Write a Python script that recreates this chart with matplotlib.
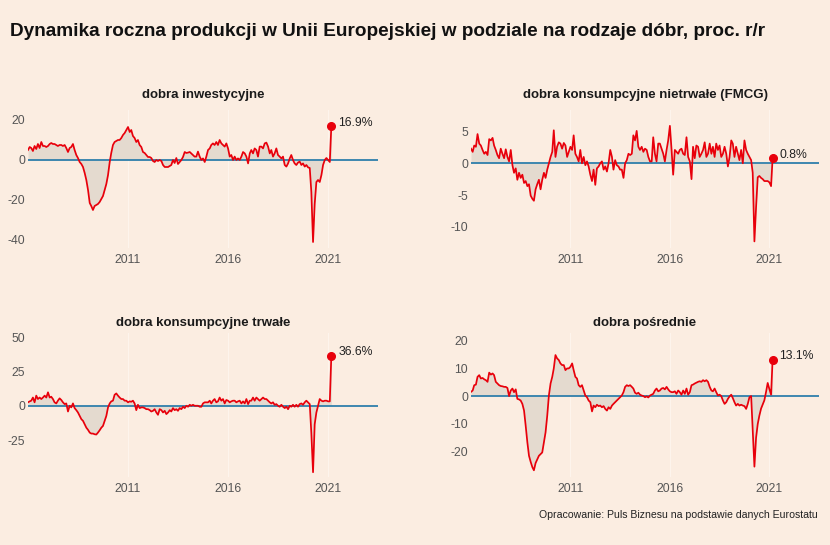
import matplotlib
matplotlib.use('Agg')
import matplotlib.pyplot as plt
import pandas as pd

# monthly data, Jan 2006 - Mar 2021 (% y/y)
DATES = pd.date_range('2006-01-01', periods=183, freq='MS')

INVESTMENT = [
    5, 6.5, 6, 4.5, 7, 5.5, 8, 6, 9, 7, 7, 6.5,
    7, 8, 8.5, 8, 8, 7.5, 7, 7.5, 7.5, 7, 7.5, 6,
    4, 6, 6.5, 8, 5, 2.5, 1, -1, -2, -3.5, -6.5, -10,
    -15, -21.5, -23, -25, -23, -22.5, -22, -21, -19.5, -18, -15, -12,
    -7.5, -1, 3.5, 7.5, 9, 9.5, 10, 10, 11, 12.5, 13.5, 15,
    16.5, 14, 15, 12, 11, 9, 10, 7.5, 6.5, 4, 3.5, 2.5,
    1.5, 1.5, 1, -0.5, -1, 0, -0.5, 0, -0.5, -2.5, -3.5, -3.5,
    -3.5, -3, -2.5, 0, -1.5, 1, -2, -1, 0, 1.5, 4, 3.5,
    3.7, 4, 3.3, 2.5, 1.7, 1.7, 4.2, 1.7, 0, 0.8, -1, 1.7,
    5, 5.8, 7.5, 8.3, 7.5, 9, 7.5, 10, 8.3, 7.5, 6.7, 8.3,
    5.8, 1.7, 2.5, 0, 1.7, 0, 0.8, 0, 1.7, 4, 3.3, 1.7,
    -1.7, 3.3, 5, 3.3, 5.8, 5, 1.7, 6.7, 6.7, 5.8, 8.3, 8.7,
    6.7, 3.3, 5, 1.7, 3.3, 5.8, 2.5, 1.7, 0.8, 1.7, -2.5, -3.3,
    -1.7, 0.8, 2.5, 0, -1.7, -2.5, -1.3, -0.8, -2.5, -1.7, -3.3, -2.5,
    -3.7, -4, -16, -41, -22, -11, -10, -11, -7.5, -2.5, 0, 1,
    0, -1, 16.9,
]

FMCG = [
    2.3, 1.8, 2.8, 2.6, 4.6, 3.1, 2.8, 2.1, 1.5, 1.8, 1.3, 3.8,
    3.6, 4.0, 2.8, 2.1, 1.3, 0.8, 2.3, 1.5, 0.8, 2.2, 1.0, 0.3,
    2.1, -0.3, -1.5, -0.8, -2.6, -1.5, -2.3, -1.8, -3.1, -2.8, -3.6, -3.3,
    -5.1, -5.6, -5.9, -4.1, -3.3, -2.6, -4.1, -2.6, -1.5, -2.3, -1.0, 0,
    1.0, 1.8, 5.2, 1.0, 2.6, 3.3, 3.1, 2.3, 3.2, 2.8, 1.0, 1.8,
    2.6, 2.1, 4.4, 1.5, 1.0, 0.3, 2.1, 0, 1.0, -0.3, 0.3, -0.5,
    -1.8, -2.8, -1.0, -3.4, -0.8, -0.5, 0, 0.3, -1.0, -0.5, -1.3, 0,
    2.1, 1.0, -1.0, 0.5, -0.3, -0.5, -1.0, -1.0, -2.3, 0, 0.5, 1.5,
    1.3, 1.5, 4.4, 3.6, 5.1, 2.6, 2.1, 2.6, 1.8, 2.3, 2.1, 1.0,
    0.3, 0.3, 4.1, 1.5, 0.3, 3.1, 3.1, 2.3, 1.5, 0.3, 2.1, 3.6,
    5.9, 2.1, -1.8, 2.1, 1.8, 1.5, 2.1, 2.3, 1.5, 1.3, 4.1, 1.0,
    0.3, -2.5, 2.6, 0.8, 2.8, 2.6, 1.0, 1.5, 2.1, 3.3, 1.0, 1.5,
    3.1, 1.5, 2.6, 1.0, 3.1, 2.1, 2.8, 1.0, 1.5, 2.6, 1.5, -0.5,
    1.0, 3.6, 3.1, 1.0, 2.6, 1.5, 0.5, 2.1, 0, 3.6, 2.1, 1.5,
    1.0, 0.5, -1.5, -12.3, -7, -2.2, -2, -2.3, -2.5, -2.8, -2.8, -2.8,
    -3, -3.6, 0.8,
]

DURABLE = [
    2.5, 3.2, 3.7, 6, 2.5, 7.4, 4.9, 6, 4.9, 6, 7.4, 6,
    9.8, 6, 6.6, 4.9, 2.5, 1.7, 3.7, 5.4, 4.2, 2.5, 1.2, 1.7,
    -4.2, 0, -1.2, 1.7, -1.7, -3.2, -4.9, -7.4, -9.8, -11, -13.5, -16,
    -17.6, -19.6, -20.3, -20.3, -20.8, -21, -19.6, -17.9, -16, -14.7, -11, -7.4,
    -1.2, 1.7, 3.2, 3.7, 8, 9, 7.4, 6, 4.9, 4.9, 3.7, 3.7,
    2.5, 3.2, 2.9, 3.7, 1.7, -3.2, 0.7, -1.7, -1.2, -1.2, -1.7, -2.5,
    -2.5, -3.2, -4.2, -3.7, -2.5, -4.9, -6.6, -2.5, -3.2, -4.9, -3.7, -6.1,
    -4.9, -3.2, -4.2, -1.7, -3.2, -2.5, -3.7, -1.7, -2.5, -0.7, -1.7, 0,
    -0.7, 0.7, 0, 0.7, 0, 0, 0, -0.7, -0.7, 1.7, 2.5, 2.5,
    2.5, 3.7, 1.7, 3.7, 4.9, 2.5, 3.2, 6, 3.7, 4.9, 1.7, 4.2,
    3.7, 2.5, 3.2, 3.7, 3.7, 2.5, 3.2, 3.7, 1.7, 3.2, 1.7, 4.9,
    1.2, 3.7, 3.7, 6, 3.7, 6, 4.9, 3.7, 4.9, 6, 4.9, 4.9,
    3.7, 2.5, 1.7, 2.5, 0.7, 1.2, 0, -0.7, 0.7, -0.7, -1.7, -0.7,
    -2.5, 0, -0.7, 0.7, -0.7, 0.7, -0.7, 1.2, 1.7, 0.7, 2.5, 3.7,
    2.5, 1.2, -20, -48.5, -13.5, -4.9, 0, 4.9, 3.7, 3.2, 3.7, 3.7,
    3.2, 3.2, 36.6,
]

INTERMEDIATE = [
    1.5, 2.0, 3.9, 4.1, 6.9, 7.5, 6.3, 6.5, 6.0, 5.7, 5.1, 8.4,
    7.7, 8.1, 7.5, 5.1, 4.5, 3.9, 3.6, 3.5, 3.3, 3.3, 2.9, 0,
    2.0, 2.7, 1.4, 2.4, -1.0, -1.2, -1.6, -2.8, -5.2, -10.6, -16.6, -21.4,
    -23.6, -25.5, -26.6, -24, -22.7, -21.4, -20.8, -20.2, -16.6, -13.0, -7.0, 0.2,
    4.5, 6.9, 9.9, 14.7, 13.5, 12.9, 11.7, 11.1, 11.1, 9.3, 9.9, 9.9,
    10.5, 11.7, 9.3, 6.9, 6.3, 3.9, 3.3, 3.9, 2.0, 0.2, -0.4, -1.6,
    -2.2, -5.5, -3.4, -4.0, -3.1, -3.6, -3.4, -4.0, -3.6, -4.6, -5.2, -4.0,
    -4.6, -3.4, -2.8, -2.2, -1.6, -1.0, -0.4, 0.2, 1.4, 3.3, 3.9, 3.6,
    3.9, 3.3, 2.7, 1.2, 0.8, 1.2, 0.5, 0.2, 0, -0.4, -0.1, -0.5,
    0.2, 0.5, 0.8, 2.0, 2.7, 1.7, 2.0, 2.7, 2.9, 2.4, 3.3, 2.4,
    1.7, 1.4, 1.4, 1.7, 0.8, 2.0, 1.4, 0.5, 2.0, 0.8, 2.7, 0.5,
    1.4, 3.9, 4.1, 4.5, 4.8, 5.1, 5.3, 5.1, 5.7, 5.3, 5.7, 5.1,
    3.3, 2.0, 1.7, 2.7, 1.4, 0.2, 0.5, 0, -1.6, -2.8, -2.2, -1.0,
    -0.1, 0.5, -0.7, -2.2, -3.4, -2.8, -3.4, -3.1, -3.4, -3.6, -4.6, -2.8,
    -0.4, 0, -12, -25.3, -15, -10, -7, -4.5, -3, -1.5, 1.5, 4.7,
    2.5, 0.5, 13.1,
]

TITLES = ['dobra inwestycyjne', 'dobra konsumpcyjne nietrwałe (FMCG)',
          'dobra konsumpcyjne trwałe', 'dobra pośrednie']
LABELS = ['16.9%', '0.8%', '36.6%', '13.1%']
YTICKS = [[-40, -20, 0, 20], [-10, -5, 0, 5], [-25, 0, 25, 50], [-20, -10, 0, 10, 20]]
XTICK_YEARS = [2011, 2016, 2021]

W, H = 830, 545
BG = '#fbede1'
FILL = '#e4dacf'
RED = '#e8000b'
BLUE = '#2f7fab'
GRID = '#fdf4ec'

plt.rcParams['font.family'] = ['Liberation Sans', 'DejaVu Sans']
plt.rcParams['axes.unicode_minus'] = False

# panel boxes in pixels (left, top, right, bottom) and y-limits (bottom, top)
BOXES = [(28, 110, 378, 248), (471, 110, 819, 248),
         (28, 333, 378, 477), (471, 333, 819, 477)]
YLIMS = [(-44, 25), (-13.34, 8.39), (-52, 53.1), (-29, 22.6)]
TITLE_Y = [95, 95, 323, 323]


def main():
    fig = plt.figure(figsize=(W / 100, H / 100), dpi=100)
    fig.patch.set_facecolor(BG)

    series = [INVESTMENT, FMCG, DURABLE, INTERMEDIATE]
    for i, values in enumerate(series):
        l, t, r, b = BOXES[i]
        ax = fig.add_axes([l / W, 1 - b / H, (r - l) / W, (b - t) / H])
        ax.set_facecolor(BG)

        ax.fill_between(DATES, values, 0, color=FILL, linewidth=0)
        ax.axhline(0, color=BLUE, lw=1.3, zorder=2)
        ax.plot(DATES, values, color=RED, lw=1.25, zorder=3)
        ax.plot(DATES[-1:], values[-1:], 'o', color=RED, ms=5.5, zorder=4)
        ax.annotate(LABELS[i], (DATES[-1], values[-1]), xytext=(5, 2.5),
                    textcoords='offset points', va='center', ha='left',
                    fontsize=8.8, color='#222222')

        ax.set_xlim(pd.Timestamp('2006-01-01'), pd.Timestamp('2023-07-01'))
        ax.set_ylim(*YLIMS[i])
        ax.set_yticks(YTICKS[i])
        ax.set_xticks([pd.Timestamp(f'{y}-01-01') for y in XTICK_YEARS])
        ax.set_xticklabels([str(y) for y in XTICK_YEARS])
        ax.tick_params(length=0, colors='#555555', labelsize=8.8)
        ax.tick_params(axis='y', pad=2)
        ax.tick_params(axis='x', pad=4)
        ax.grid(axis='x', color=GRID, lw=0.8)
        ax.set_axisbelow(True)
        for s in ax.spines.values():
            s.set_visible(False)

        fig.text((l + r) / 2 / W, 1 - TITLE_Y[i] / H, TITLES[i],
                 ha='center', va='center', fontsize=9.5,
                 fontweight='bold', color='#1a1a1a')

    fig.text(10 / W, 1 - 32 / H,
             'Dynamika roczna produkcji w Unii Europejskiej w podziale na rodzaje dóbr, proc. r/r',
             ha='left', va='center', fontsize=13.7, fontweight='bold', color='#111111')
    fig.text(818 / W, 1 - 515 / H,
             'Opracowanie: Puls Biznesu na podstawie danych Eurostatu',
             ha='right', va='center', fontsize=7.6, color='#222222')

    fig.savefig('out.png', dpi=100, facecolor=BG)


if __name__ == '__main__':
    main()
